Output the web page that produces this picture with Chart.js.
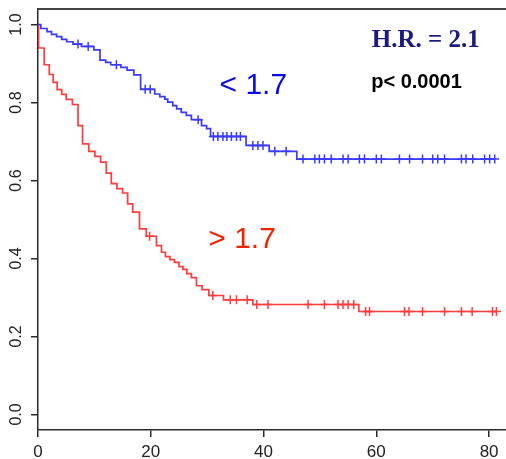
<!DOCTYPE html>
<html>
<head>
<meta charset="utf-8">
<script src="https://cdn.jsdelivr.net/npm/chart.js@4"></script>
<style>
  html, body { margin: 0; padding: 0; background: #fff; overflow: hidden; }
  canvas { display: block; }
</style>
</head>
<body>
<canvas id="km" width="506" height="459"></canvas>
<script>
// --- axes ---
const xTicks = [0, 20, 40, 60, 80];
const yTicks = [0, 0.2, 0.4, 0.6, 0.8, 1.0];
const yTickLabels = ['0.0', '0.2', '0.4', '0.6', '0.8', '1.0'];

// --- group < 1.7 (blue) : step times, survival after each step, censored times ---
const lowTimes = [0, 0.5, 1.6, 2.4, 3.3, 4.2, 5.1, 6.2, 7.7, 9.9, 11.0, 12.0, 12.9, 14.7, 15.8, 17.0,
  18.2, 20.7, 21.6, 22.5, 23.0, 23.9, 24.6, 25.4, 26.3, 27.2, 29.0, 29.9, 30.6, 36.9, 41.0, 45.9];
const lowSurv = [1.0, 0.990, 0.982, 0.975, 0.969, 0.962, 0.956, 0.950, 0.944, 0.935, 0.909, 0.903, 0.897, 0.890, 0.883, 0.871,
  0.834, 0.822, 0.815, 0.809, 0.801, 0.792, 0.784, 0.775, 0.767, 0.756, 0.741, 0.733, 0.713, 0.690, 0.675, 0.655];
const lowCensor = [7.1, 8.9, 13.9, 19.0, 19.9, 28.4, 31.1, 31.9, 32.8, 33.5, 34.3, 35.2, 35.9, 38.1, 39.0, 39.9,
  42.0, 44.0, 47.0, 49.1, 49.9, 50.8, 52.0, 54.1, 55.0, 57.0, 57.9, 60.0, 60.9, 64.1, 65.9, 68.2, 70.0, 70.9,
  72.1, 75.1, 75.9, 77.1, 79.2, 80.1, 81.0];
const lowEnd = 81.0;

// --- group > 1.7 (red) ---
const highTimes = [0, 0.1, 1.1, 2.0, 2.7, 3.4, 4.2, 5.0, 6.1, 7.1, 7.9, 9.0, 10.1, 11.1, 12.1, 13.0, 14.0, 15.0,
  15.9, 16.8, 18.0, 19.2, 21.0, 21.9, 22.6, 23.4, 24.2, 25.0, 25.7, 26.4, 27.2, 28.1, 29.1, 30.3, 32.9, 38.1, 56.9];
const highSurv = [1.0, 0.940, 0.897, 0.872, 0.852, 0.833, 0.821, 0.808, 0.795, 0.741, 0.694, 0.675, 0.662, 0.647,
  0.619, 0.592, 0.579, 0.568, 0.540, 0.519, 0.476, 0.457, 0.433, 0.416, 0.405, 0.397, 0.390, 0.379, 0.372, 0.361,
  0.351, 0.330, 0.320, 0.305, 0.294, 0.282, 0.264];
const highCensor = [19.8, 31.0, 34.1, 35.2, 37.1, 38.8, 40.8, 47.9, 50.8, 53.2, 54.1, 55.0, 56.0, 58.1, 58.8,
  65.0, 65.8, 68.2, 72.1, 75.1, 77.0, 80.6, 81.3];
const highEnd = 81.3;

// text drawn on the plot, placed in data units
const notes = [
  { text: '< 1.7', x: 32.2, y: 0.823, color: '#0a0ae6', font: '30px "Liberation Sans", Arial, sans-serif' },
  { text: '> 1.7', x: 30.2, y: 0.426, color: '#f02400', font: '30px "Liberation Sans", Arial, sans-serif' },
  { text: 'H.R. = 2.1', x: 59.2, y: 0.942, color: '#1a1a80', font: 'bold 25px "Liberation Serif", "Times New Roman", serif' },
  { text: 'p< 0.0001', x: 59.1, y: 0.838, color: '#000', font: 'bold 20px "Liberation Sans", Arial, sans-serif' }
];

function curve(times, surv, end) {
  const pts = times.map((t, i) => ({ x: t, y: surv[i] }));
  pts.push({ x: end, y: surv[surv.length - 1] });
  return pts;
}
function survAt(times, surv, t) {
  let s = surv[0];
  for (let i = 0; i < times.length; i++) if (times[i] <= t) s = surv[i];
  return s;
}
function marks(times, surv, censor) {
  return censor.map(t => ({ x: t, y: survAt(times, surv, t) }));
}

const BLUE = '#3a3aff', RED = '#ff3c3c', AXIS = '#2a2a2a';

const frame = {
  id: 'frame',
  afterDraw(chart) {
    const { ctx, chartArea: a, scales: { x, y } } = chart;
    ctx.save();
    // top edge of the box
    ctx.strokeStyle = '#444';
    ctx.lineWidth = 2;
    ctx.beginPath();
    ctx.moveTo(a.left, a.top);
    ctx.lineTo(chart.width, a.top);
    ctx.stroke();
    // y labels, turned like base R
    ctx.fillStyle = '#222';
    ctx.font = '16px "Liberation Sans", Arial, sans-serif';
    ctx.textAlign = 'center';
    ctx.textBaseline = 'middle';
    yTicks.forEach((v, i) => {
      ctx.save();
      ctx.translate(a.left - 21.5, y.getPixelForValue(v));
      ctx.rotate(-Math.PI / 2);
      ctx.fillText(yTickLabels[i], 0, 0);
      ctx.restore();
    });
    // notes
    ctx.textAlign = 'left';
    ctx.textBaseline = 'alphabetic';
    notes.forEach(n => {
      ctx.font = n.font;
      ctx.fillStyle = n.color;
      ctx.fillText(n.text, x.getPixelForValue(n.x), y.getPixelForValue(n.y));
    });
    ctx.restore();
  }
};

const gridOpts = { drawOnChartArea: false, drawTicks: true, tickLength: 7, color: AXIS, lineWidth: 1.5 };
const borderOpts = { display: true, color: AXIS, width: 1.5 };

new Chart(document.getElementById('km'), {
  type: 'scatter',
  data: {
    datasets: [
      { data: curve(lowTimes, lowSurv, lowEnd), showLine: true, stepped: 'before', borderColor: BLUE, borderWidth: 1.7, pointRadius: 0 },
      { data: marks(lowTimes, lowSurv, lowCensor), pointStyle: 'cross', pointRadius: 4.5, borderColor: BLUE, borderWidth: 1.5 },
      { data: curve(highTimes, highSurv, highEnd), showLine: true, stepped: 'before', borderColor: RED, borderWidth: 1.7, pointRadius: 0 },
      { data: marks(highTimes, highSurv, highCensor), pointStyle: 'cross', pointRadius: 4.5, borderColor: RED, borderWidth: 1.5 }
    ]
  },
  options: {
    responsive: false,
    devicePixelRatio: 1,
    animation: false,
    layout: { autoPadding: false, padding: { top: 9, right: 0, bottom: 0, left: 0 } },
    plugins: { legend: { display: false }, tooltip: { enabled: false } },
    scales: {
      x: {
        type: 'linear', min: 0, max: 83,
        afterBuildTicks: s => { s.ticks = xTicks.map(v => ({ value: v })); },
        afterFit: s => { s.height = 29; s.paddingLeft = 0; s.paddingRight = 0; },
        grid: gridOpts, border: borderOpts,
        ticks: { color: '#222', padding: 5, maxRotation: 0, autoSkip: false,
                 font: { family: '"Liberation Sans", Arial, sans-serif', size: 17 } }
      },
      y: {
        min: -0.04, max: 1.04,
        afterBuildTicks: s => { s.ticks = yTicks.map(v => ({ value: v })); },
        afterFit: s => { s.width = 38; s.paddingTop = 0; s.paddingBottom = 0; },
        grid: gridOpts, border: borderOpts,
        ticks: { display: false }
      }
    }
  },
  plugins: [frame]
});
</script>
</body>
</html>
